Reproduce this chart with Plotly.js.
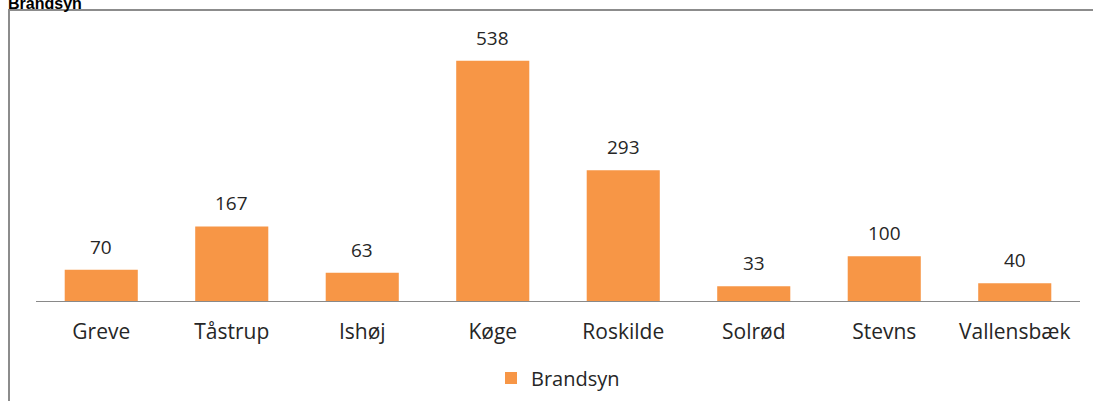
<!DOCTYPE html>
<html><head><meta charset="utf-8">
<script src="https://cdn.plot.ly/plotly-3.0.1.min.js"></script>
<style>html,body{margin:0;padding:0;background:#fff;}#chart{width:1093px;height:401px;}</style>
</head><body><div id="chart"></div>
<script>
const categories = ["Greve","Tåstrup","Ishøj","Køge","Roskilde","Solrød","Stevns","Vallensbæk"];
const values = [70,167,63,538,293,33,100,40];
const seriesName = "Brandsyn";
const chartTitle = "Brandsyn";

const W=1093,H=401, mL=36, mR=13, mT=33, mB=100;
const plotH=H-mT-mB, plotW=W-mL-mR;
const px2x = p => (p-mL)/plotW;
const py2y = p => (H-mB-p)/plotH;
const font = "'Open Sans', sans-serif";

const annotations = categories.map((c,i)=>({
  x:c, y:values[i], xref:'x', yref:'y', text:String(values[i]),
  showarrow:false, yanchor:'bottom', yshift:8,
  font:{family:font,size:19,color:'#262626'}
}));
annotations.push({
  xref:'paper', yref:'paper', x:px2x(6), y:py2y(3.5), xanchor:'left', yanchor:'middle',
  text:'<b>'+chartTitle+'</b>', showarrow:false,
  font:{family:'Liberation Sans, Arial, sans-serif', size:16, color:'#000'}
});

Plotly.newPlot('chart',[{
  type:'bar', x:categories, y:values, name:seriesName,
  marker:{color:'#F79646'}, width:0.56, showlegend:true
}],{
  width:W,height:H,
  margin:{l:mL,r:mR,t:mT,b:mB,autoexpand:false},
  paper_bgcolor:'#fff', plot_bgcolor:'#fff',
  xaxis:{showline:true, linecolor:'#898989', linewidth:1, ticks:'', ticklabelstandoff:12,
    automargin:false,
    tickfont:{family:font,size:21,color:'#262626'}, fixedrange:true},
  yaxis:{range:[0,600], visible:false, showgrid:false, zeroline:false, automargin:false},
  showlegend:true,
  legend:{orientation:'h', x:0.5, xanchor:'center', y:py2y(378), yanchor:'middle',
    font:{family:font,size:20,color:'#262626'}},
  annotations:annotations,
  shapes:[
    {type:'line', xref:'paper', yref:'paper', x0:px2x(9), x1:px2x(9), y0:py2y(10), y1:py2y(420), line:{color:'#8c8c8c',width:2}},
    {type:'line', xref:'paper', yref:'paper', x0:px2x(8), x1:px2x(1110), y0:py2y(10), y1:py2y(10), line:{color:'#8c8c8c',width:2}}
  ]
},{displayModeBar:false, staticPlot:true});
</script></body></html>
